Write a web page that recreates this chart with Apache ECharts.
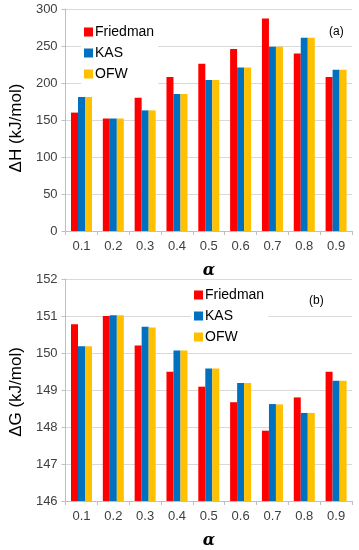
<!DOCTYPE html>
<html>
<head>
<meta charset="utf-8">
<script src="https://cdn.jsdelivr.net/npm/echarts@6/dist/echarts.min.js"></script>
<style>
html,body{margin:0;padding:0;background:#fff;}
#c{width:359px;height:550px;}
</style>
</head>
<body>
<div id="c"></div>
<script>
const categories = ['0.1','0.2','0.3','0.4','0.5','0.6','0.7','0.8','0.9'];
const seriesNames = ['Friedman','KAS','OFW'];
const colors = ['#FF0000','#0070C0','#FFC000'];

const dH_Friedman = [160, 152, 180, 208, 226, 246, 287, 240, 208];
const dH_KAS      = [181, 152, 163, 185, 204, 221, 249, 261, 218];
const dH_OFW      = [181, 152, 163, 185, 204, 221, 249, 261, 218];

const dG_Friedman = [150.78, 151.00, 150.20, 149.49, 149.09, 148.67, 147.90, 148.80, 149.49];
const dG_KAS      = [150.18, 151.02, 150.71, 150.07, 149.58, 149.19, 148.62, 148.38, 149.25];
const dG_OFW      = [150.18, 151.02, 150.69, 150.07, 149.58, 149.19, 148.61, 148.38, 149.25];

const dHTicks = {min: 0, max: 300, interval: 50};
const dGTicks = {min: 146, max: 152, interval: 1};

const FONT = '"Liberation Sans", Arial, sans-serif';

function xAxis(gridIndex){
  return {
    type: 'category', gridIndex, data: categories,
    axisLine: {lineStyle: {color: '#BFBFBF'}},
    axisTick: {show: true, length: 4, lineStyle: {color: '#BFBFBF'}},
    axisLabel: {color: '#404040', fontSize: 13, fontFamily: FONT, margin: 9},
    name: 'α', nameLocation: 'middle', nameGap: 32,
    nameTextStyle: {fontFamily: '"DejaVu Serif", serif', fontWeight: 'bold', fontStyle: 'italic', fontSize: 16, color: '#000'}
  };
}
function yAxis(gridIndex, ticks, name, pad){
  return {
    type: 'value', gridIndex, min: ticks.min, max: ticks.max, interval: ticks.interval,
    axisLine: {show: true, lineStyle: {color: '#BFBFBF'}},
    axisTick: {show: true, length: 4, lineStyle: {color: '#BFBFBF'}},
    splitLine: {lineStyle: {color: '#D9D9D9'}},
    axisLabel: {color: '#404040', fontSize: 13, fontFamily: FONT, margin: 8},
    name: name, nameLocation: 'middle', nameGap: 36,
    nameTextStyle: {fontFamily: FONT, fontSize: 17, color: '#000', padding: pad}
  };
}
function bars(idx, name, data, color){
  return {
    type: 'bar', name, data, xAxisIndex: idx, yAxisIndex: idx,
    barWidth: 7, barGap: '0%',
    itemStyle: {color}, animation: false
  };
}
function legend(left, top, bg){
  return {
    orient: 'vertical', left, top, itemWidth: 9, itemHeight: 9, itemGap: 7,
    icon: 'rect', data: seriesNames, backgroundColor: bg, padding: [3,4,3,3],
    textStyle: {fontFamily: FONT, fontSize: 14, color: '#000', padding: [0,0,0,-3]}
  };
}

const chart = echarts.init(document.getElementById('c'));
chart.setOption({
  animation: false,
  backgroundColor: '#fff',
  grid: [
    {left: 63, right: 7, top: 9, height: 222},
    {left: 63, right: 7, top: 279, height: 228}
  ],
  xAxis: [xAxis(0), xAxis(1)],
  yAxis: [yAxis(0, dHTicks, 'ΔH (kJ/mol)', [0,16,0,0]), yAxis(1, dGTicks, 'ΔG (kJ/mol)', [0,4,0,0])],
  legend: [legend(81, 22, '#fff'), legend(191, 285, '#fff')],
  series: [
    bars(0, 'Friedman', dH_Friedman, colors[0]),
    bars(0, 'KAS', dH_KAS, colors[1]),
    bars(0, 'OFW', dH_OFW, colors[2]),
    bars(1, 'Friedman', dG_Friedman, colors[0]),
    bars(1, 'KAS', dG_KAS, colors[1]),
    bars(1, 'OFW', dG_OFW, colors[2])
  ],
  graphic: [
    {type: 'text', left: 329, top: 26, style: {text: '(a)', font: '12px ' + FONT, fill: '#000'}},
    {type: 'text', left: 309, top: 295, style: {text: '(b)', font: '12px ' + FONT, fill: '#000'}}
  ]
});
</script>
</body>
</html>
